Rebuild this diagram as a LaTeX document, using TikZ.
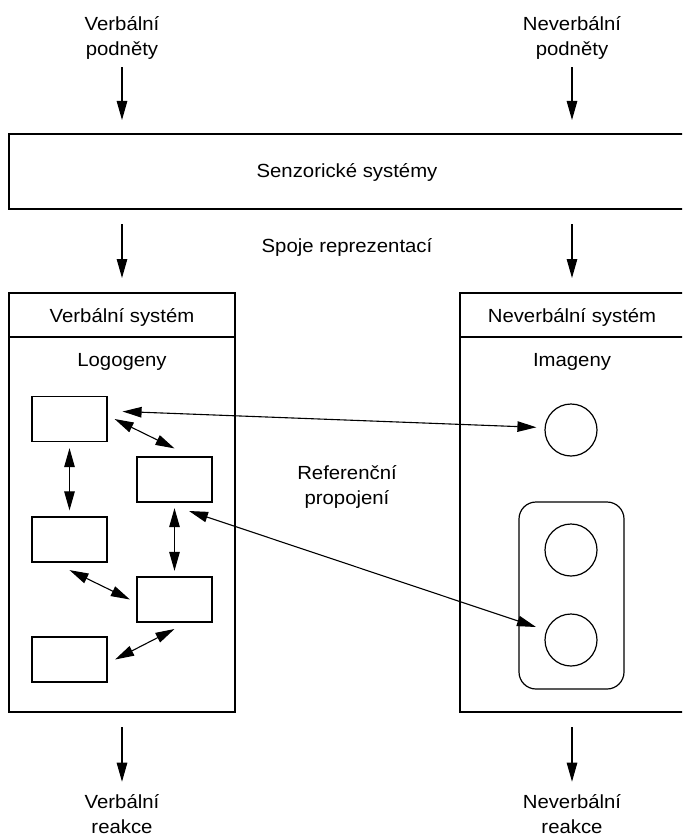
\documentclass[tikz,border=0pt]{standalone}
\usepackage{fontspec}
\setmainfont{Liberation Sans}[FakeStretch=1.07]
\usetikzlibrary{arrows.meta}
\begin{document}
\begin{tikzpicture}[x=1pt,y=-1pt,
  >={Triangle[length=19pt,width=10.5pt]},
  txt/.style={font=\fontsize{19}{25}\selectfont, align=center, inner sep=0pt},
  bigbox/.style={draw, line width=2.4pt, inner sep=0pt, outer sep=0pt},
  wbox/.style={draw, line width=1.2pt, minimum width=75pt, minimum height=45pt, inner sep=0pt},
  circ/.style={draw, line width=1.2pt, circle, minimum size=52pt, inner sep=0pt},
  grpbox/.style={draw, line width=1.2pt, rounded corners=17pt, minimum width=105pt, minimum height=187pt, inner sep=0pt},
  arr/.style={line width=1.1pt, ->},
  dbl/.style={line width=1.1pt, <->},
  hline/.style={line width=1.8pt}
]
\useasboundingbox (0,0) rectangle (682,837);
\clip (0,0) rectangle (682,837);

% big boxes
\node[bigbox, minimum width=691pt, minimum height=75pt] (sens) at (354.5,171.5) {};
\node[bigbox, minimum width=226pt, minimum height=419pt] (vs) at (122,502.5) {};
\node[bigbox, minimum width=240pt, minimum height=419pt] (ns) at (580,502.5) {};
\draw[hline] ([yshift=-44pt]vs.north west) -- ([yshift=-44pt]vs.north east);
\draw[hline] ([yshift=-44pt]ns.north west) -- ([yshift=-44pt]ns.north east);

% texts
\node[txt] (vp) at (122,37.5) {Verbální\\podněty};
\node[txt] (np) at (572,37.5) {Neverbální\\podněty};
\node[txt, anchor=base] (senz) at (347,177.7) {Senzorické systémy};
\node[txt, anchor=base] (spoje) at (347,252) {Spoje reprezentací};
\node[txt, anchor=base] (vstitle) at (122,322) {Verbální systém};
\node[txt, anchor=base] (nstitle) at (572,322) {Neverbální systém};
\node[txt, anchor=base] (logo) at (122,366) {Logogeny};
\node[txt, anchor=base] (imag) at (572,366) {Imageny};
\node[txt] (ref) at (347,486.6) {Referenční\\propojení};
\node[txt] (vr) at (122,814) {Verbální\\reakce};
\node[txt] (nr) at (572,814) {Neverbální\\reakce};

% logogens
\node[wbox] (l1) at (69.5,419) {};
\node[wbox] (l2) at (174.5,479.5) {};
\node[wbox] (l3) at (69.5,539.5) {};
\node[wbox] (l4) at (174.5,599.5) {};
\node[wbox] (l5) at (69.5,659.5) {};

% imagens
\node[circ] (c1) at (571,430) {};
\node[grpbox] (grp) at (571.5,595.5) {};
\node[circ] (c2) at (571,550) {};
\node[circ] (c3) at (571,640) {};

% vertical flow arrows
\draw[arr, shorten <=8pt, shorten >=14pt] (vp.south) -- (vp.south |- sens.north);
\draw[arr, shorten <=8pt, shorten >=14pt] (np.south) -- (np.south |- sens.north);
\draw[arr, shorten <=15pt, shorten >=15pt] (vs.north |- sens.south) -- (vs.north);
\draw[arr, shorten <=15pt, shorten >=15pt] (nstitle.north |- sens.south) -- (nstitle.north |- ns.north);
\draw[arr, shorten <=15pt, shorten >=12.5pt] (vs.south) -- (vr.north);
\draw[arr, shorten <=15pt, shorten >=12.5pt] (nr.north |- ns.south) -- (nr.north);

% links
\draw[dbl] ([xshift=15pt,yshift=7.5pt]l1.east) -- ([xshift=-8pt,yshift=2.7pt]c1.west);
\draw[dbl] ([xshift=7pt]l1.east) -- ([yshift=8pt]l2.north);
\draw[dbl] ([yshift=-6pt]l1.south) -- ([yshift=6pt]l3.north);
\draw[dbl] ([yshift=-5.5pt]l2.south) -- ([yshift=5.5pt]l4.north);
\draw[dbl] ([yshift=-7.5pt]l3.south) -- ([xshift=-6.5pt]l4.west);
\draw[dbl] ([xshift=7.5pt]l5.east) -- ([yshift=-6.4pt]l4.south);
\draw[dbl] ([xshift=14.5pt,yshift=-8.4pt]l2.south) -- ([xshift=-8.4pt,yshift=13pt]c3.west);
\end{tikzpicture}
\end{document}
